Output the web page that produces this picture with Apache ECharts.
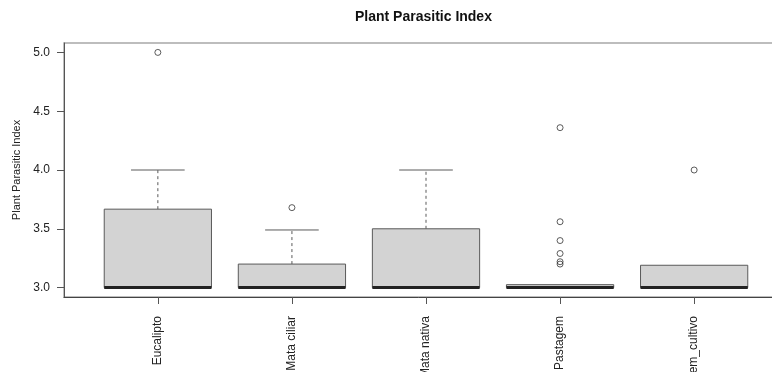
<!DOCTYPE html>
<html>
<head>
<meta charset="utf-8">
<script src="https://cdn.jsdelivr.net/npm/echarts@6/dist/echarts.min.js"></script>
<style>html,body{margin:0;padding:0;background:#fff}#c{width:772px;height:372px}</style>
</head>
<body>
<div id="c"></div>
<script>
// ---- data ----
const categories = ["Eucalipto", "Mata ciliar", "Mata nativa", "Pastagem", "Sem_cultivo"];
const lowerWhisker = [3.0, 3.0, 3.0, 3.0, 3.0];
const q1 = [3.0, 3.0, 3.0, 3.0, 3.0];
const median = [3.0, 3.0, 3.0, 3.0, 3.0];
const q3 = [3.667, 3.2, 3.5, 3.025, 3.19];
const upperWhisker = [4.0, 3.49, 4.0, 3.025, 3.19];
const outliers = [[5.0], [3.68], [], [4.36, 3.56, 3.40, 3.29, 3.22, 3.20], [4.0]];
const yTicks = [3.0, 3.5, 4.0, 4.5, 5.0];

// ---- build ----
const positions = categories.map((_, i) => i + 1);
const boxData = categories.map((_, i) => [positions[i], lowerWhisker[i], q1[i], median[i], q3[i], upperWhisker[i]]);
const outlierData = [];
outliers.forEach((arr, i) => arr.forEach(v => outlierData.push([positions[i], v])));

const FONT = "Liberation Sans";
const chart = echarts.init(document.getElementById('c'), null, {renderer: 'canvas'});

function renderBox(params, api) {
  const x = api.value(0), lo = api.value(1), a = api.value(2), m = api.value(3), b = api.value(4), hi = api.value(5);
  const half = 0.4, cap = 0.2;
  const pL = api.coord([x - half, b]), pR = api.coord([x + half, a]);
  const children = [];
  const lineStyle = {stroke: '#5a5a5a', lineWidth: 1};
  const dashStyle = {stroke: '#5a5a5a', lineWidth: 1, lineDash: [3, 3]};
  if (hi > b) {
    const s = api.coord([x, b]), e = api.coord([x, hi]);
    children.push({type: 'line', shape: {x1: s[0], y1: s[1], x2: e[0], y2: e[1]}, style: dashStyle});
    const c1 = api.coord([x - cap, hi]), c2 = api.coord([x + cap, hi]);
    children.push({type: 'line', shape: {x1: c1[0], y1: c1[1], x2: c2[0], y2: c2[1]}, style: lineStyle});
  }
  if (lo < a) {
    const s = api.coord([x, a]), e = api.coord([x, lo]);
    children.push({type: 'line', shape: {x1: s[0], y1: s[1], x2: e[0], y2: e[1]}, style: dashStyle});
    const c1 = api.coord([x - cap, lo]), c2 = api.coord([x + cap, lo]);
    children.push({type: 'line', shape: {x1: c1[0], y1: c1[1], x2: c2[0], y2: c2[1]}, style: lineStyle});
  }
  children.push({type: 'rect', shape: {x: pL[0], y: pL[1], width: pR[0] - pL[0], height: pR[1] - pL[1]},
    style: {fill: '#d3d3d3', stroke: '#5a5a5a', lineWidth: 1}});
  const m1 = api.coord([x - half, m]), m2 = api.coord([x + half, m]);
  children.push({type: 'line', shape: {x1: m1[0], y1: m1[1], x2: m2[0], y2: m2[1]}, style: {stroke: '#222', lineWidth: 3}});
  return {type: 'group', children};
}

chart.setOption({
  animation: false,
  backgroundColor: '#fff',
  title: {
    text: 'Plant Parasitic Index', left: 355, top: 10, padding: 0,
    textStyle: {fontFamily: FONT, fontSize: 14, fontWeight: 'bold', color: '#111'}
  },
  grid: {left: 64, top: 43, width: 724, height: 254, outerBoundsMode: 'none', containLabel: false,
         show: true, borderColor: '#a8a8a8', borderWidth: 1.5, backgroundColor: 'transparent'},
  xAxis: {
    type: 'value', min: 0.3, max: 5.7,
    axisLine: {show: true, lineStyle: {color: '#444', width: 1}},
    axisTick: {show: true, customValues: positions, length: 7, lineStyle: {color: '#555'}},
    axisLabel: {
      customValues: positions, rotate: 90, margin: 19,
      fontFamily: FONT, fontSize: 12, color: '#222',
      formatter: v => categories[Math.round(v) - 1]
    },
    splitLine: {show: false}
  },
  yAxis: {
    type: 'value', min: 2.92, max: 5.08,
    name: 'Plant Parasitic Index', nameLocation: 'middle', nameRotate: 90, nameGap: 41,
    nameTextStyle: {fontFamily: FONT, fontSize: 11, color: '#222'},
    axisLine: {show: true, lineStyle: {color: '#555', width: 1}},
    axisTick: {show: true, customValues: yTicks, length: 7, lineStyle: {color: '#555'}},
    axisLabel: {customValues: yTicks, margin: 14, fontFamily: FONT, fontSize: 12, color: '#222', formatter: v => v.toFixed(1)},
    splitLine: {show: false}
  },
  series: [
    {type: 'custom', renderItem: renderBox, data: boxData, encode: {x: 0, y: [1, 2, 3, 4, 5]}, clip: false, z: 2},
    {type: 'scatter', data: outlierData, symbol: 'circle', symbolSize: 6,
     itemStyle: {color: 'rgba(0,0,0,0)', borderColor: '#333', borderWidth: 1}, z: 3}
  ]
});
</script>
</body>
</html>
